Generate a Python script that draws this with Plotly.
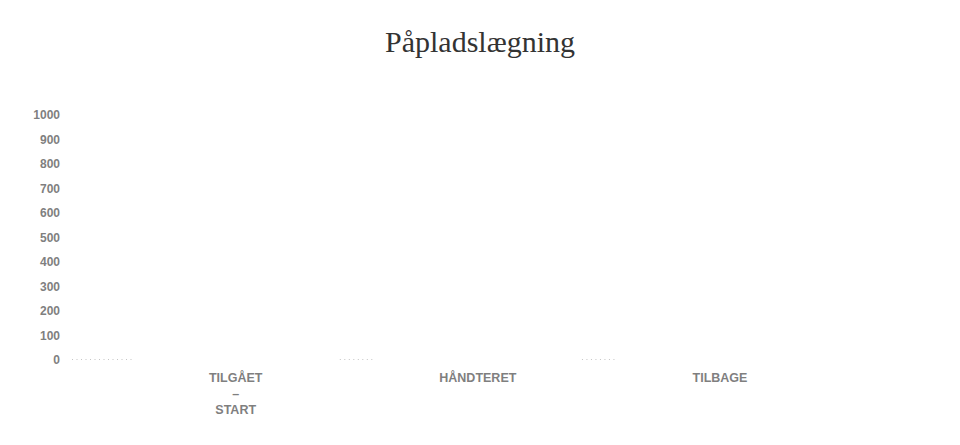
import plotly.graph_objects as go

title_text = "Påpladslægning"
categories = ["TILGÅET<br>–<br>START", "HÅNDTERET", "TILBAGE"]
values = [0, 0, 0]
measures = ["relative", "relative", "relative"]
y_ticks = [0, 100, 200, 300, 400, 500, 600, 700, 800, 900, 1000]

bar_width = 0.86
x_start = -0.676
x_end = 2.95
dot_style = "1px,3.5px"

fig = go.Figure()
fig.add_trace(go.Waterfall(
    x=list(range(len(categories))),
    y=values,
    measure=measures,
    width=bar_width,
    connector=dict(mode="between", line=dict(color="#8a8a8a", width=1, dash=dot_style)),
    increasing=dict(marker=dict(color="rgba(0,0,0,0)")),
    decreasing=dict(marker=dict(color="rgba(0,0,0,0)")),
    totals=dict(marker=dict(color="rgba(0,0,0,0)")),
    hoverinfo="skip",
    showlegend=False,
))
# leading connector from plot start to first bar
fig.add_trace(go.Scatter(
    x=[x_start, 0 - bar_width / 2],
    y=[values[0], values[0]],
    mode="lines",
    line=dict(color="#8a8a8a", width=1, dash=dot_style),
    hoverinfo="skip",
    showlegend=False,
))

fig.update_layout(
    width=960, height=445,
    margin=dict(l=72, r=10, t=115, b=85),
    paper_bgcolor="white", plot_bgcolor="white",
    title=dict(text=title_text, x=0.5, xanchor="center", y=0.907, yanchor="middle",
               font=dict(family="Liberation Serif, DejaVu Serif, serif", size=30, color="#333333")),
    xaxis=dict(range=[x_start, x_end], tickmode="array", tickvals=list(range(len(categories))),
               ticktext=["<b>" + c.replace("<br>", "</b><br><b>") + "</b>" for c in categories],
               showgrid=False, zeroline=False, showline=False, ticks="",
               ticklabelstandoff=8,
               tickfont=dict(family="Liberation Sans, Arial, sans-serif", size=12.5, color="#7f7f7f")),
    yaxis=dict(range=[0, 1000], tickmode="array", tickvals=y_ticks,
               ticktext=["<b>%d</b>" % v for v in y_ticks],
               showgrid=False, zeroline=False, showline=False, ticks="",
               ticklabelstandoff=11,
               tickfont=dict(family="Liberation Sans, Arial, sans-serif", size=12, color="#7f7f7f")),
)

fig.write_html("out.html")
